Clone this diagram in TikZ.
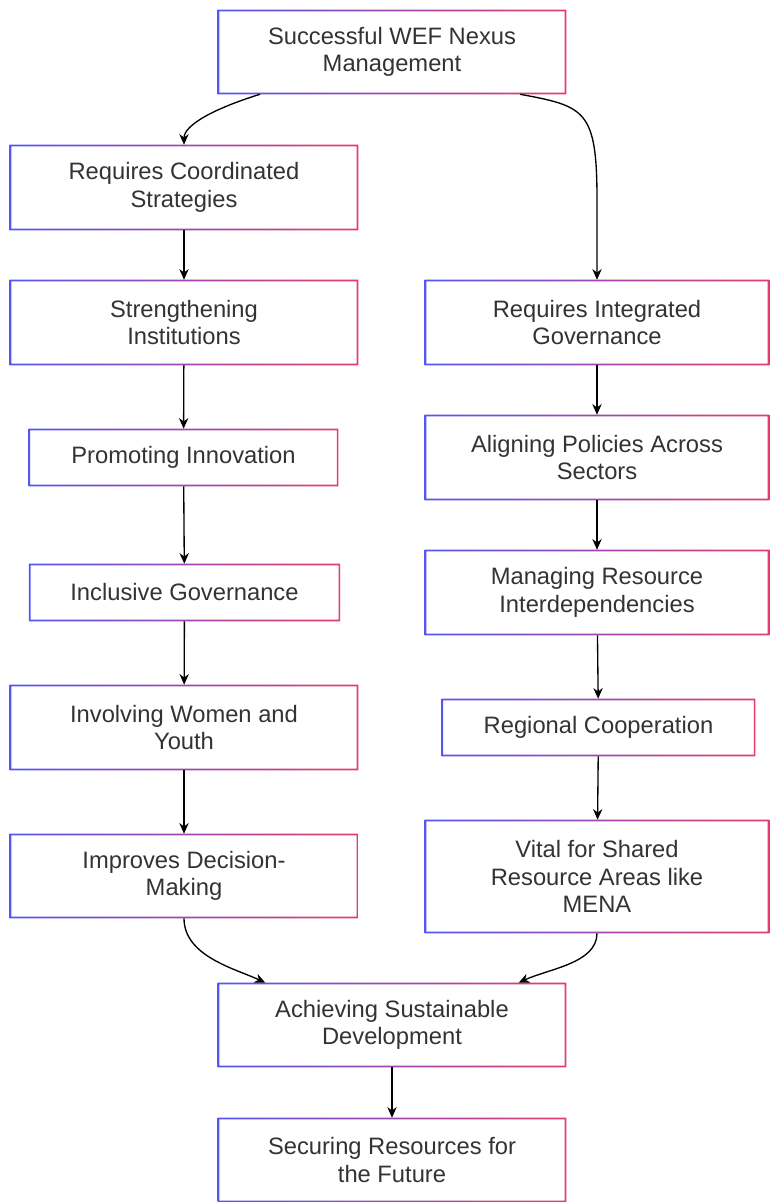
\documentclass[tikz,border=0pt]{standalone}
\usepackage{fontspec}
\setmainfont{Liberation Sans}
\usetikzlibrary{arrows.meta,calc}
\definecolor{bleft}{RGB}{85,85,245}
\definecolor{bright}{RGB}{230,60,105}
\definecolor{txt}{RGB}{51,51,51}
\tikzset{
  box/.style={draw=none, fill=white, align=center, text=txt,
    font=\fontsize{17.8pt}{20.5pt}\selectfont, inner sep=0pt},
  conn/.style={draw=black, line width=1pt, -{Stealth[length=8pt,width=7pt]}},
}
\newcommand{\gborder}[1]{%
  \shade[left color=bleft, right color=bright, even odd rule]
    (#1.south west) rectangle (#1.north east)
    ([shift={(1.6,-1.6)}]#1.south west) rectangle ([shift={(-1.6,1.6)}]#1.north east);
}
\begin{document}
\begin{tikzpicture}[x=0.75pt,y=-0.75pt]
\useasboundingbox (0,0) rectangle (769,1202);
\fill[white] (0,0) rectangle (769,1202);
% nodes
\node[box, minimum width=261pt, minimum height=63pt] (top) at (392,52) {Successful WEF Nexus\\Management};
\node[box, minimum width=261pt, minimum height=63.75pt] (coord) at (184,187.5) {Requires Coordinated\\Strategies};
\node[box, minimum width=261pt, minimum height=63.75pt] (inst) at (184,322.5) {Strengthening\\Institutions};
\node[box, minimum width=232pt, minimum height=42.75pt] (innov) at (183.5,457.5) {Promoting Innovation};
\node[box, minimum width=233pt, minimum height=42.75pt] (incl) at (184.5,592.5) {Inclusive Governance};
\node[box, minimum width=261pt, minimum height=63.75pt] (women) at (184,727.5) {Involving Women and\\Youth};
\node[box, minimum width=261pt, minimum height=63pt] (decis) at (184,876) {Improves Decision-\\Making};
\node[box, minimum width=258pt, minimum height=63.75pt] (integ) at (597,322.5) {Requires Integrated\\Governance};
\node[box, minimum width=258pt, minimum height=63.75pt] (align) at (597,457.5) {Aligning Policies Across\\Sectors};
\node[box, minimum width=258pt, minimum height=63.75pt] (manag) at (597,592.5) {Managing Resource\\Interdependencies};
\node[box, minimum width=235pt, minimum height=42.75pt] (region) at (598.5,727.5) {Regional Cooperation};
\node[box, minimum width=258pt, minimum height=84.75pt] (vital) at (597,876.5) {Vital for Shared\\Resource Areas like\\MENA};
\node[box, minimum width=261pt, minimum height=63pt] (achiev) at (392,1025) {Achieving Sustainable\\Development};
\node[box, minimum width=261pt, minimum height=63pt] (secur) at (392,1160) {Securing Resources for\\the Future};
\foreach \n in {top,coord,inst,innov,incl,women,decis,integ,align,manag,region,vital,achiev,secur}{\gborder{\n}}
% connectors
\draw[conn] ([xshift=-99pt]top.south) .. controls ++(-45,14) and ++(0,-20) .. (coord.north);
\draw[conn] ([xshift=96pt]top.south) .. controls ++(65,12) and ++(0,-90) .. ($(integ.north)+(0,-80)$) -- (integ.north);
\draw[conn] (coord) -- (inst);
\draw[conn] (inst) -- (innov);
\draw[conn] (innov) -- (incl);
\draw[conn] (incl) -- (women);
\draw[conn] (women) -- (decis);
\draw[conn] (integ) -- (align);
\draw[conn] (align) -- (manag);
\draw[conn] (manag) -- (region);
\draw[conn] (region) -- (vital);
\draw[conn] (decis.south) .. controls ++(0,38) and ++(-30,-14) .. ([xshift=-95pt]achiev.north);
\draw[conn] (vital.south) .. controls ++(0,30) and ++(30,-14) .. ([xshift=95pt]achiev.north);
\draw[conn] (achiev) -- (secur);
\end{tikzpicture}
\end{document}
